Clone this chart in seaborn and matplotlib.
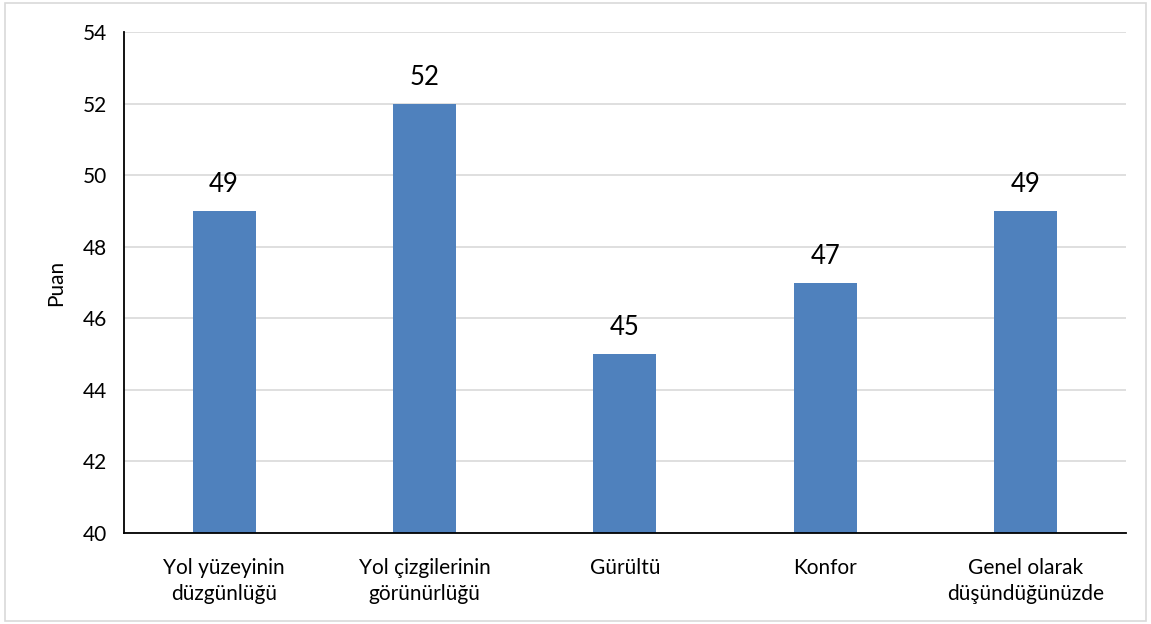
import matplotlib
matplotlib.use("Agg")
import matplotlib.pyplot as plt
import seaborn as sns
import pandas as pd
from matplotlib.patches import Rectangle

categories = [
    "Yol yüzeyinin\ndüzgünlüğü",
    "Yol çizgilerinin\ngörünürlüğü",
    "Gürültü",
    "Konfor",
    "Genel olarak\ndüşündüğünüzde",
]
scores = [49, 52, 45, 47, 49]
y_ticks = [40, 42, 44, 46, 48, 50, 52, 54]

df = pd.DataFrame({"kategori": categories, "puan": scores})

sns.set_theme(style="white")
plt.rcParams["font.family"] = ["Lato", "DejaVu Sans"]

fig = plt.figure(figsize=(11.51, 6.24), dpi=100)
ax = fig.add_axes([0.1077, 0.1458, 0.8703, 0.8029])

sns.barplot(data=df, x="kategori", y="puan", color="#4F81BD", width=0.315,
            saturation=1, linewidth=0, ax=ax, zorder=3)

ax.set_ylim(40, 54)
ax.set_yticks(y_ticks)
ax.set_yticklabels([str(t) for t in y_ticks], fontsize=15, color="black")
ax.tick_params(axis="y", length=0, pad=12)
ax.tick_params(axis="x", length=0, labelsize=15, colors="black", pad=18)
for lbl in ax.get_xticklabels():
    lbl.set_verticalalignment("top")
    lbl.set_linespacing(1.4)
ax.yaxis.grid(True, color="#D9D9D9", linewidth=1.2, zorder=0)
ax.set_axisbelow(True)
ax.set_xlabel("")
ax.set_ylabel("Puan", fontsize=15, color="black", labelpad=12)

for side in ("top", "right"):
    ax.spines[side].set_visible(False)
for side in ("left", "bottom"):
    ax.spines[side].set_color("black")
    ax.spines[side].set_linewidth(1.3)
    ax.spines[side].set_zorder(4)

for i, v in enumerate(scores):
    ax.annotate(str(v), (i, v), xytext=(0, 10), textcoords="offset points",
                ha="center", va="bottom", fontsize=18.5, color="black")

fig.patches.append(Rectangle((0.004, 0.005), 0.992, 0.99, transform=fig.transFigure,
                             fill=False, edgecolor="#D9D9D9", linewidth=1.2))

fig.savefig("out.png", dpi=100)
